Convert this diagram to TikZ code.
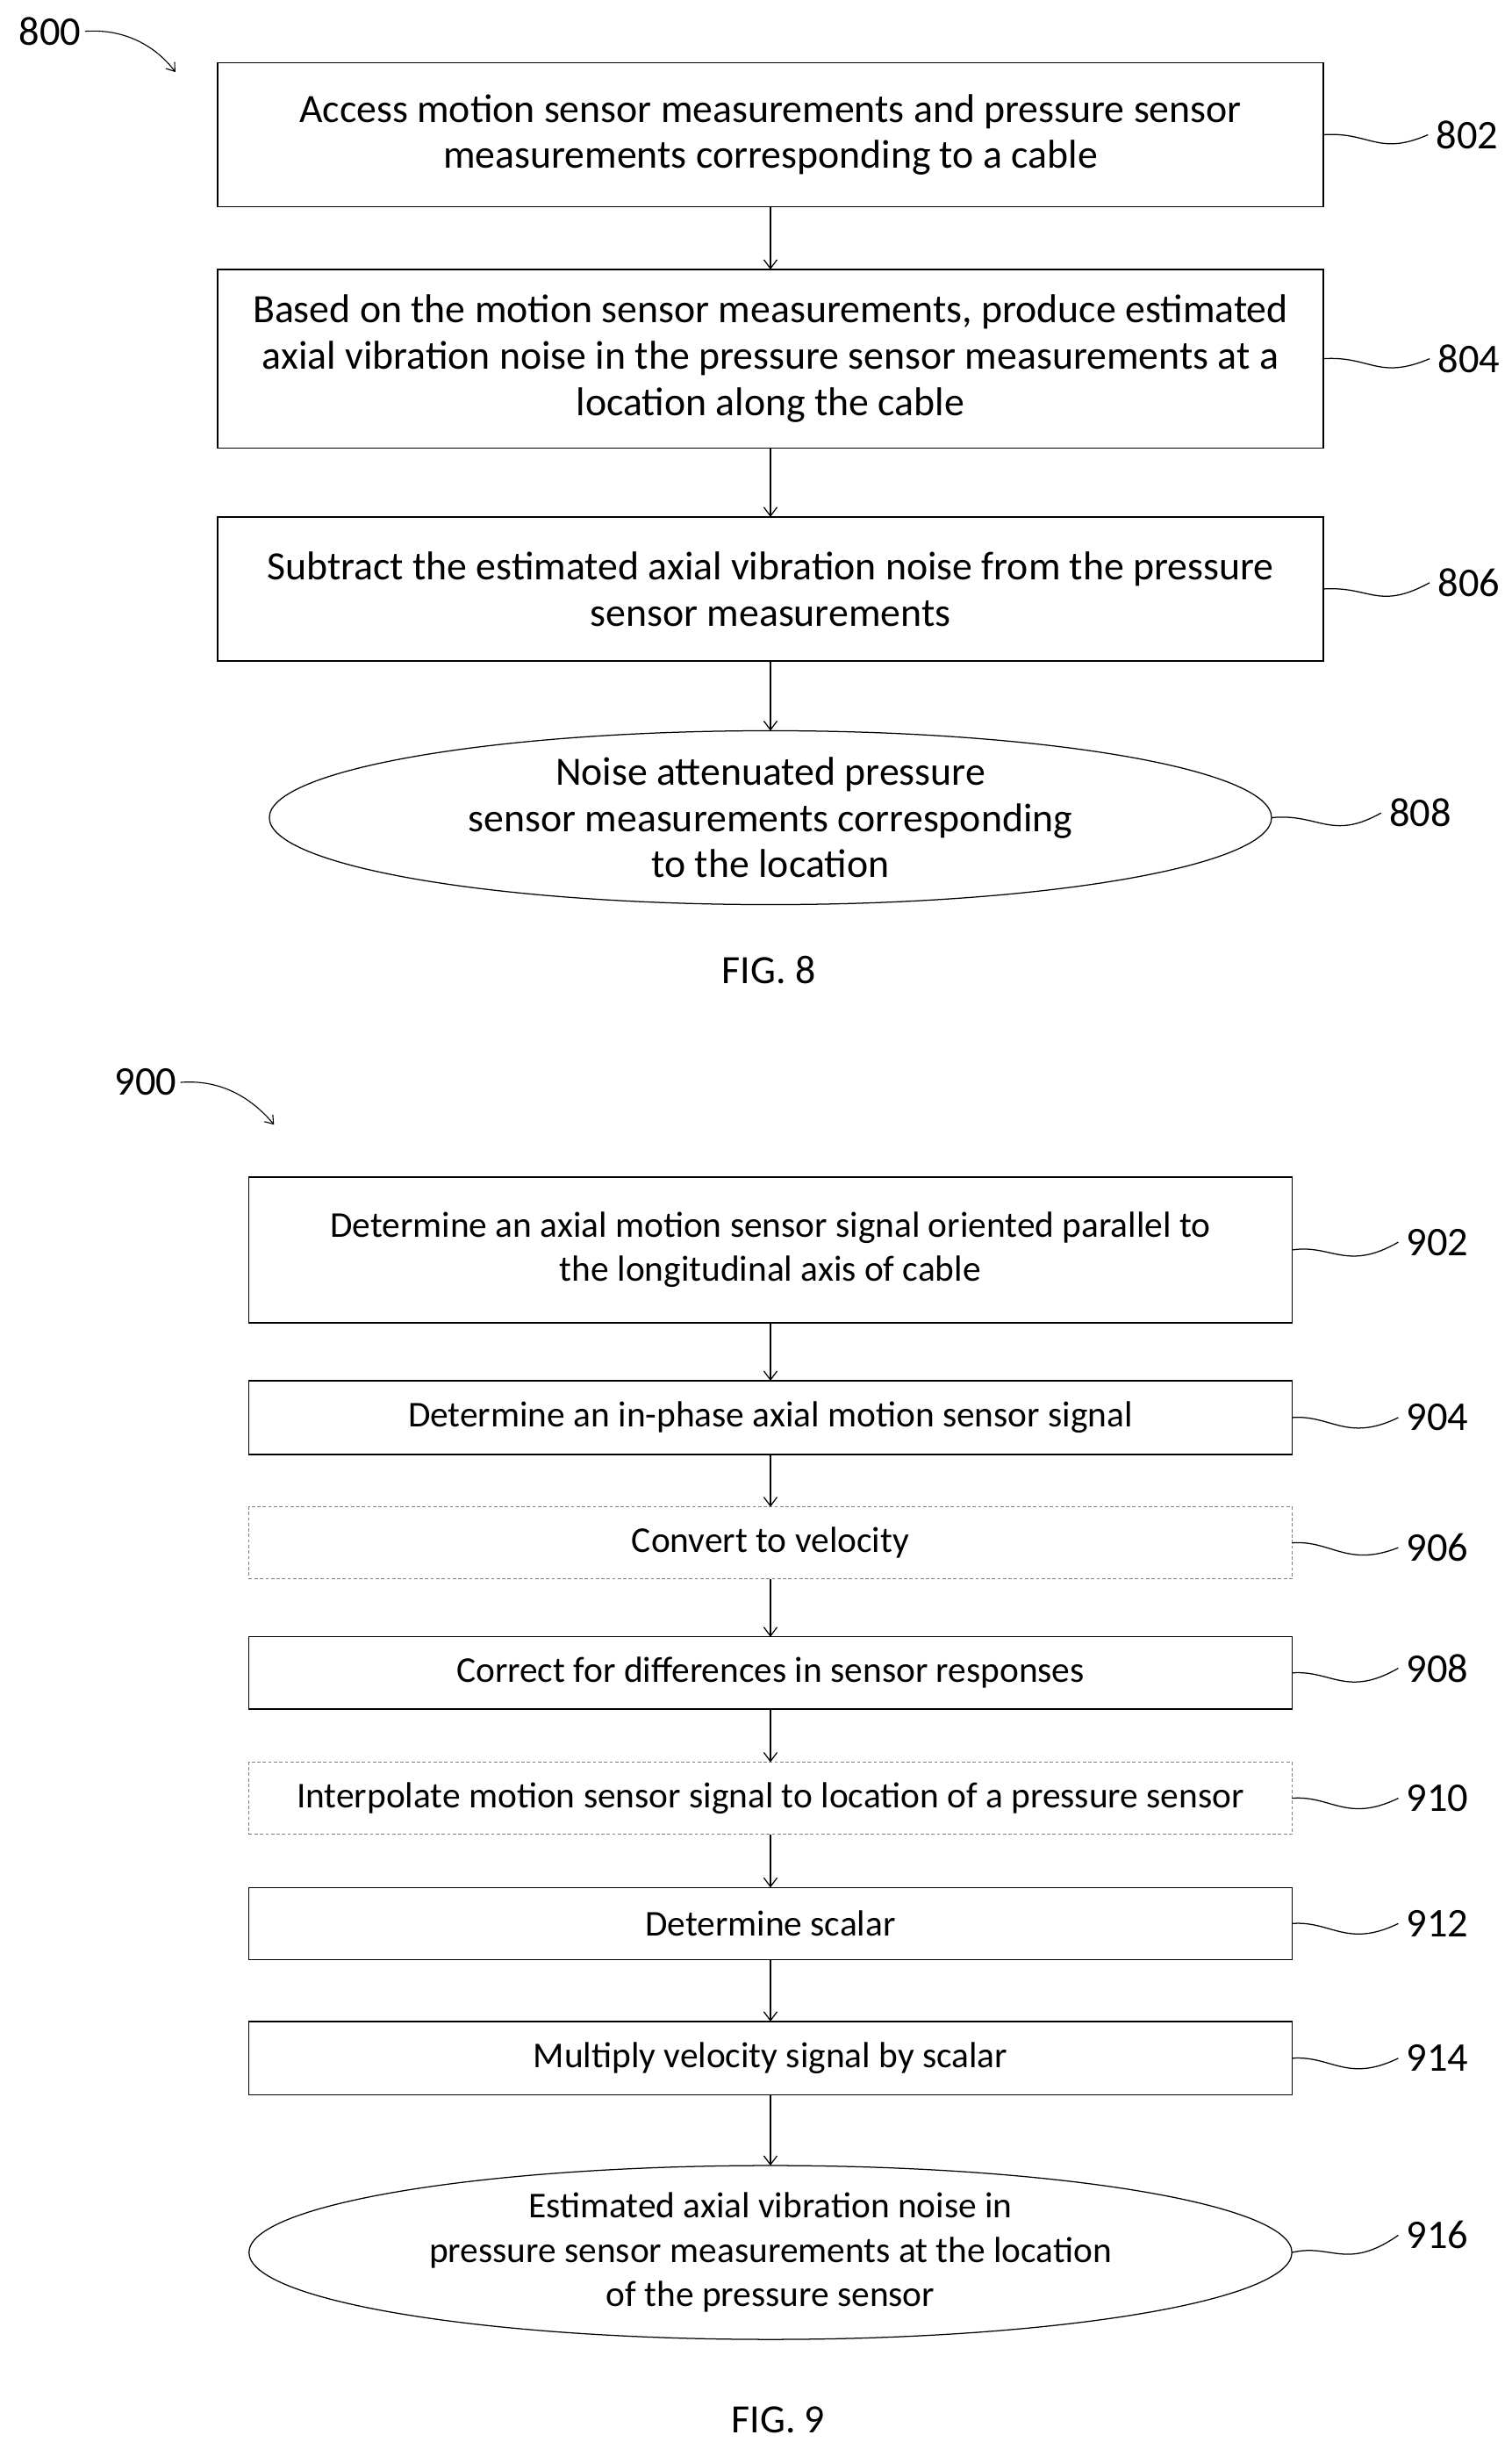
\documentclass[tikz,border=0pt]{standalone}
\usepackage{fontspec}
\setmainfont{Carlito}
\usetikzlibrary{shapes.geometric,arrows.meta}
\begin{document}
\begin{tikzpicture}[x=0.05cm,y=-0.05cm,
  every node/.style={font=\fontsize{36.5}{42}\selectfont},
  nine/.style={font=\fontsize{33}{40}\selectfont},
  box/.style={draw,line width=1pt,align=center,inner sep=0pt,outer sep=0pt},
  dbox/.style={box,draw=gray,dash pattern=on 3pt off 2pt},
  ell/.style={draw,line width=1pt,ellipse,align=center,inner sep=0pt,outer sep=0pt},
  arr/.style={-{Straight Barb[length=8pt,width=12pt]},line width=1pt},
  lead/.style={line width=1pt},
  lbl/.style={font=\fontsize{37}{40}\selectfont}]
\useasboundingbox (0,0) rectangle (965,1559);
% FIG 8
\node[box,minimum width=706*0.05cm,minimum height=92*0.05cm] (b802) at (492,86) {Access motion sensor measurements and pressure sensor\\measurements corresponding to a cable};
\node[box,minimum width=706*0.05cm,minimum height=114*0.05cm] (b804) at (492,229) {Based on the motion sensor measurements, produce estimated\\axial vibration noise in the pressure sensor measurements at a\\location along the cable};
\node[box,minimum width=706*0.05cm,minimum height=92*0.05cm] (b806) at (492,376) {Subtract the estimated axial vibration noise from the pressure\\sensor measurements};
\node[ell,minimum width=640*0.05cm,minimum height=111*0.05cm] (e808) at (492,522) {Noise attenuated pressure\\sensor measurements corresponding\\to the location};
\draw[arr] (b802) -- (b804);
\draw[arr] (b804) -- (b806);
\draw[arr] (b806) -- (e808);
\node[lbl] (l802) at (937,86) {802};
\node[lbl] (l804) at (938,229) {804};
\node[lbl] (l806) at (938,372) {806};
\node[lbl] (l808) at (907,519) {808};
\draw[lead] (b802.east) .. controls (875,84) and (880,100) .. ([xshift=-4pt]l802.west);
\draw[lead] (b804.east) .. controls (875,227) and (880,243) .. ([xshift=-4pt]l804.west);
\draw[lead] (b806.east) .. controls (875,374) and (880,390) .. ([xshift=-4pt]l806.west);
\draw[lead] (e808.east) .. controls (842,519) and (850,537) .. ([xshift=-4pt]l808.west);
\node (f8) at (491,619) {FIG. 8};
\node[lbl] (l800) at (32,20) {800};
\coordinate (t800) at (112,46);
\draw[-{Straight Barb[length=7pt,width=10pt]},line width=0.9pt] (l800.east) .. controls (80,18) and (100,30) .. (t800);
% FIG 9
\def\bw{666*0.05cm}
\node[box,nine,minimum width=\bw,minimum height=93*0.05cm] (b902) at (492,798) {Determine an axial motion sensor signal oriented parallel to\\the longitudinal axis of cable};
\node[box,nine,minimum width=\bw,minimum height=47*0.05cm] (b904) at (492,905) {Determine an in-phase axial motion sensor signal};
\node[dbox,nine,minimum width=\bw,minimum height=46*0.05cm] (b906) at (492,985) {Convert to velocity};
\node[box,nine,minimum width=\bw,minimum height=46*0.05cm] (b908) at (492,1068) {Correct for differences in sensor responses};
\node[dbox,nine,minimum width=\bw,minimum height=46*0.05cm] (b910) at (492,1148) {Interpolate motion sensor signal to location of a pressure sensor};
\node[box,nine,minimum width=\bw,minimum height=46*0.05cm] (b912) at (492,1228) {Determine scalar};
\node[box,nine,minimum width=\bw,minimum height=47*0.05cm] (b914) at (492,1314) {Multiply velocity signal by scalar};
\node[ell,nine,minimum width=666*0.05cm,minimum height=111*0.05cm] (e916) at (492,1438) {Estimated axial vibration noise in\\pressure sensor measurements at the location\\of the pressure sensor};
\draw[arr] (b902) -- (b904);
\draw[arr] (b904) -- (b906);
\draw[arr] (b906) -- (b908);
\draw[arr] (b908) -- (b910);
\draw[arr] (b910) -- (b912);
\draw[arr] (b912) -- (b914);
\draw[arr] (b914) -- (e916);
\foreach \n/\y in {902/793,904/905,906/988,908/1065,910/1148,912/1228,914/1314}{
  \node[lbl] (l\n) at (918,\y) {\n};
}
\draw[lead] (b902.east) .. controls (850,794) and (860,812) .. ([xshift=-4pt]l902.west);
\draw[lead] (b904.east) .. controls (850,903) and (860,921) .. ([xshift=-4pt]l904.west);
\draw[lead] (b906.east) .. controls (850,983) and (860,1001) .. ([xshift=-4pt]l906.west);
\draw[lead] (b908.east) .. controls (850,1066) and (860,1084) .. ([xshift=-4pt]l908.west);
\draw[lead] (b910.east) .. controls (850,1146) and (860,1164) .. ([xshift=-4pt]l910.west);
\draw[lead] (b912.east) .. controls (850,1226) and (860,1244) .. ([xshift=-4pt]l912.west);
\draw[lead] (b914.east) .. controls (850,1312) and (860,1330) .. ([xshift=-4pt]l914.west);
\node[lbl] (l916) at (918,1427) {916};
\draw[lead] (e916.east) .. controls (850,1432) and (860,1450) .. ([xshift=-4pt]l916.west);
\node (f9) at (497,1545) {FIG. 9};
\node[lbl] (l900) at (93,691) {900};
\coordinate (t900) at (175,718);
\draw[-{Straight Barb[length=7pt,width=10pt]},line width=0.9pt] (l900.east) .. controls (140,689) and (160,700) .. (t900);
\end{tikzpicture}
\end{document}
